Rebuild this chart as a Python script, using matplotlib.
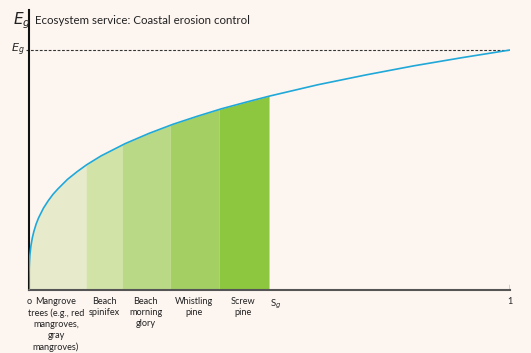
import matplotlib.pyplot as plt
import numpy as np

# -----------------------------
# Data
# -----------------------------
curve_x = [0, 0.00005, 0.0002, 0.0005, 0.001, 0.002, 0.004, 0.007, 0.01, 0.015, 0.02, 0.03, 0.04,
           0.05, 0.06, 0.08, 0.1, 0.12, 0.15, 0.2, 0.25, 0.3, 0.35, 0.4, 0.45, 0.5,
           0.6, 0.7, 0.8, 0.9, 1.0]
curve_y = [0, 0.048, 0.073, 0.097, 0.120, 0.149, 0.184, 0.218, 0.243, 0.276, 0.301, 0.341, 0.372,
           0.399, 0.421, 0.461, 0.493, 0.522, 0.559, 0.610, 0.653, 0.691, 0.724, 0.755, 0.782, 0.808,
           0.855, 0.896, 0.934, 0.968, 1.0]

band_edges = [0, 0.1185, 0.1933, 0.2931, 0.395, 0.499]
band_centers = [0.056, 0.156, 0.243, 0.344, 0.445]
band_labels = ['Mangrove\ntrees (e.g., red\nmangroves,\ngray\nmangroves)',
               'Beach\nspinifex', 'Beach\nmorning\nglory', 'Whistling\npine', 'Screw\npine']
band_colors = ['#e7eacb', '#d2e3a8', '#bad986', '#a3cf63', '#8dc63f']

bg = '#fdf5f0'
plt.rcParams['font.family'] = ['Lato', 'DejaVu Sans']

fig = plt.figure(figsize=(5.31, 3.53), dpi=100, facecolor=bg)
ax = fig.add_axes([29 / 531, 63 / 353, 481 / 531, 280 / 353])
ax.set_facecolor(bg)
ax.set_xlim(0, 1)
ax.set_ylim(0, 280 / 240)

# shaded bands under the curve
cx = np.array(curve_x)
cy = np.array(curve_y)
for i, col in enumerate(band_colors):
    x0, x1 = band_edges[i], band_edges[i + 1]
    xs = np.concatenate([[x0], cx[(cx > x0) & (cx < x1)], [x1]])
    ys = np.interp(xs, cx, cy)
    ax.fill_between(xs, 0, ys, color=col, linewidth=0)
    ax.text(band_centers[i], -0.03, band_labels[i],
            ha='center', va='top', fontsize=6.6, color='#222222', linespacing=1.3)

ax.plot(curve_x, curve_y, color='#1fa8d8', linewidth=1.2, zorder=3)
ax.axhline(1.0, xmin=-0.007, color='#333333', linestyle=(0, (2.5, 1.5)), linewidth=0.8,
           clip_on=False)

for s in ['top', 'right']:
    ax.spines[s].set_visible(False)
ax.spines['left'].set_color('#111111')
ax.spines['left'].set_linewidth(1.5)
ax.spines['bottom'].set_color('#555555')
ax.spines['bottom'].set_linewidth(1.5)
ax.set_xticks([])
ax.set_yticks([])

# axis annotations
ax.text(0, -0.03, 'o', ha='center', va='top', fontsize=6.6, color='#222222')
ax.text(1, -0.03, '1', ha='center', va='top', fontsize=6.6, color='#222222')
ax.plot([1, 1], [0, 0.02], color='#333333', linewidth=1)
ax.text(band_edges[-1] + 0.002, -0.03, '$\\mathregular{S}_{\\mathit{g}}$', ha='left', va='top',
        fontsize=7, color='#222222')
ax.text(-0.01, 1.0, '$\\mathit{E}_{\\mathit{g}}$', ha='right', va='center',
        fontsize=8, color='#222222')
fig.text(13 / 531, 1 - 21 / 353, '$\\mathit{E}_{\\mathit{g}}$', ha='left', va='center',
         fontsize=11, color='#222222')
fig.text(35 / 531, 1 - 20 / 353, 'Ecosystem service: Coastal erosion control',
         ha='left', va='center', fontsize=8.3, color='#222222')

fig.savefig('out.png', dpi=100, facecolor=bg)
